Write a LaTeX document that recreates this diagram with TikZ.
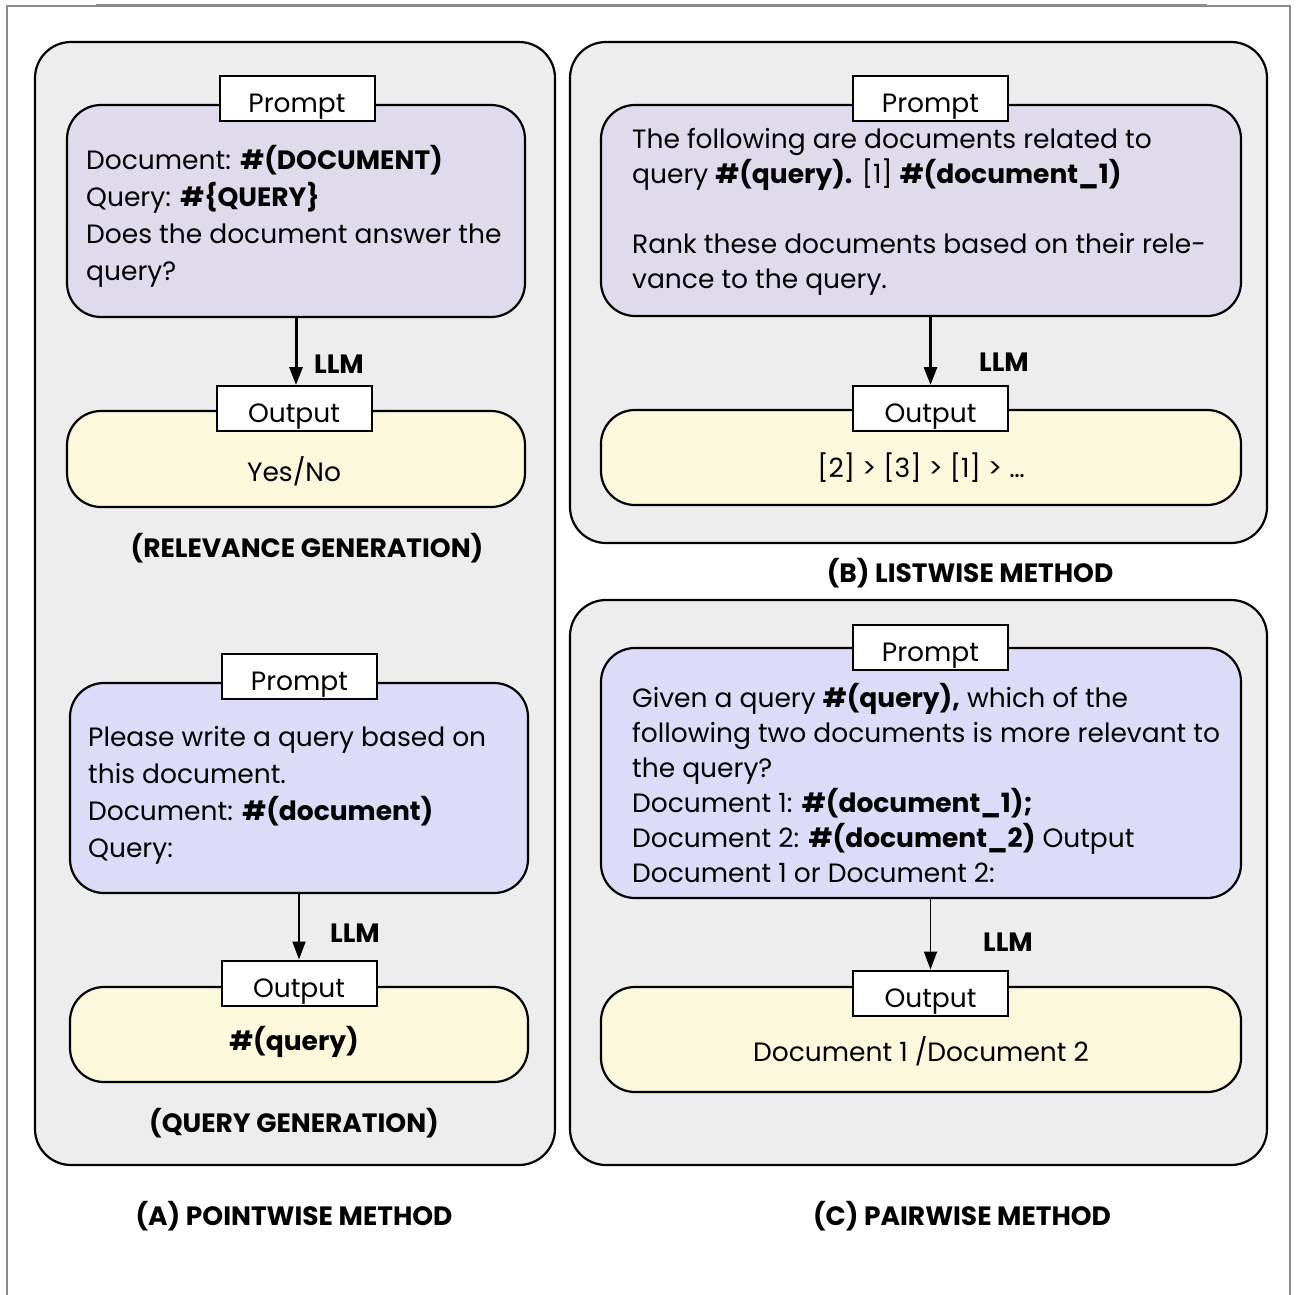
\documentclass[tikz,border=0pt]{standalone}
\usepackage{fontspec}
\setmainfont{Poppins}
\usetikzlibrary{arrows.meta}
\definecolor{panelfill}{HTML}{EDEDEE}
\definecolor{lavA}{HTML}{DFDBEC}
\definecolor{lavB}{HTML}{DCDBF8}
\definecolor{outfill}{HTML}{FCF8DB}
\definecolor{framegray}{HTML}{8C8C8C}
\newcommand\txtA{\fontsize{26.5}{37}\selectfont}
\newcommand\txtB{\fontsize{26.5}{35}\selectfont}
\newcommand\lblfont{\fontsize{26.5}{30}\selectfont\bfseries}
\tikzset{
  panel/.style={draw=black, line width=2.2pt, fill=panelfill, rounded corners=36pt, inner sep=0pt},
  boxstyle/.style={draw=black, line width=2.2pt, rounded corners=34pt, inner sep=0pt},
  tagbox/.style={draw=black, line width=2pt, fill=white, inner sep=0pt, minimum width=155pt, minimum height=45pt, font=\txtA, text height=28pt, text depth=0pt},
  bodytext/.style={anchor=base west, align=left, inner sep=0pt},
  lbl/.style={font=\lblfont, inner sep=0pt},
  arr/.style={line width=3pt, -{Triangle[width=13pt,length=18pt]}},
  thinarr/.style={line width=1.8pt, -{Triangle[width=13pt,length=18pt]}},
}
\begin{document}
\begin{tikzpicture}[x=1pt,y=-1pt]
\useasboundingbox (0,0) rectangle (1298,1295);
% outer frame
\draw[framegray, line width=1.5pt] (7,1295) -- (7,6) -- (1290,6) -- (1290,1295);
\draw[framegray, line width=3pt] (96,6) -- (1207,6);

% panels
\node[panel, minimum width=520pt, minimum height=1123pt] (panA) at (295,603.5) {};
\node[panel, minimum width=697pt, minimum height=501pt] (panB) at (918.5,292.5) {};
\node[panel, minimum width=697pt, minimum height=565pt] (panC) at (918.5,882.5) {};

% ---------- Panel A, relevance generation ----------
\node[boxstyle, fill=lavA, minimum width=458pt, minimum height=212pt] (pA1) at (296,211) {};
\node[tagbox] (tA1) at (297,98.5) {Prompt};
\node[bodytext, font=\txtA] (xA1) at (86,280) {Document: \textbf{\#(DOCUMENT)}\\Query: \textbf{\#\{QUERY\}}\\Does the document answer the\\query?};
\node[boxstyle, fill=outfill, minimum width=458pt, minimum height=96pt] (oA1) at (296,459) {};
\node[tagbox] (otA1) at (294,408.5) {Output};
\node[font=\txtA, inner sep=0pt] (yA1) at (294,471) {Yes/No};
\draw[arr] (pA1.south) -- (pA1.south |- otA1.north);
\node[lbl] (lA1) at (339,364) {LLM};
\node[lbl] (gA1) at (307,548) {(RELEVANCE GENERATION)};

% ---------- Panel A, query generation ----------
\node[boxstyle, fill=lavB, minimum width=458pt, minimum height=210pt] (pA2) at (299,788) {};
\node[tagbox] (tA2) at (299.5,676) {Prompt};
\node[bodytext, font=\txtA] (xA2) at (88,857) {Please write a query based on\\this document.\\Document: \textbf{\#(document)}\\Query:};
\node[boxstyle, fill=outfill, minimum width=458pt, minimum height=95pt] (oA2) at (299,1034.5) {};
\node[tagbox] (otA2) at (299,983) {Output};
\node[font=\txtA\bfseries, inner sep=0pt] (yA2) at (294,1042) {\#(query)};
\draw[thinarr] (pA2.south) -- (pA2.south |- otA2.north);
\node[lbl] (lA2) at (355,933) {LLM};
\node[lbl] (gA2) at (294,1123) {(QUERY GENERATION)};
\node[lbl] (capA) at (294,1216) {(A) POINTWISE METHOD};

% ---------- Panel B ----------
\node[boxstyle, fill=lavA, minimum width=640pt, minimum height=211pt] (pB) at (921,210.5) {};
\node[tagbox] (tB) at (930.5,98.5) {Prompt};
\node[bodytext, font=\txtB] (xB) at (632,288.5) {The following are documents related to\\query \textbf{\#(query).} [1] \textbf{\#(document\_1)}\\[35pt]Rank these documents based on their rele-\\vance to the query.};
\node[boxstyle, fill=outfill, minimum width=640pt, minimum height=95pt] (oB) at (921,457.5) {};
\node[tagbox] (otB) at (930.5,408.5) {Output};
\node[font=\txtB, inner sep=0pt] (yB) at (921,468) {[2] > [3] > [1] > …};
\draw[arr] (otB.north |- pB.south) -- (otB.north);
\node[lbl] (lB) at (1004,362) {LLM};
\node[lbl] (capB) at (970,573) {(B) LISTWISE METHOD};

% ---------- Panel C ----------
\node[boxstyle, fill=lavB, minimum width=640pt, minimum height=250pt] (pC) at (921,773) {};
\node[tagbox] (tC) at (930.5,647.5) {Prompt};
\node[bodytext, font=\txtB] (xC) at (632,882.5) {Given a query \textbf{\#(query),} which of the\\following two documents is more relevant to\\the query?\\Document 1: \textbf{\#(document\_1);}\\Document 2: \textbf{\#(document\_2)} Output\\Document 1 or Document 2:};
\node[boxstyle, fill=outfill, minimum width=640pt, minimum height=105pt] (oC) at (921,1039.5) {};
\node[tagbox] (otC) at (930.5,993) {Output};
\node[font=\txtB, inner sep=0pt] (yC) at (921,1051) {Document 1 /Document 2};
\draw[thinarr] (otC.north |- pC.south) -- (otC.north);
\node[lbl] (lC) at (1008,942) {LLM};
\node[lbl] (capC) at (962,1216) {(C) PAIRWISE METHOD};
\end{tikzpicture}
\end{document}
